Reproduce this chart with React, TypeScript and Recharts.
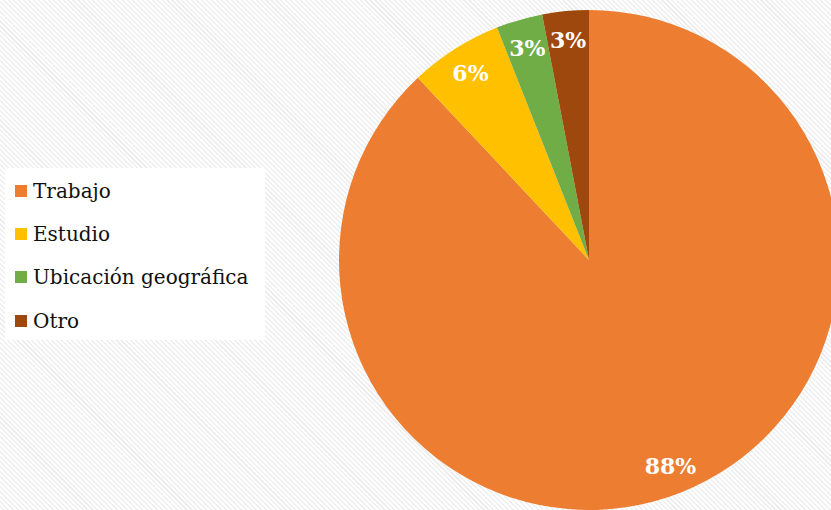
import { Cell, Legend, Pie, PieChart } from 'recharts';

const categories = ['Trabajo', 'Estudio', 'Ubicación geográfica', 'Otro'];
const shares = [88, 6, 3, 3];
const colors = ['#ED7D31', '#FFC000', '#70AD47', '#9E480E'];

const data = categories.map((name, i) => ({ name, value: shares[i] }));

const RADIAN = Math.PI / 180;
const serif = '"DejaVu Serif", Georgia, serif';

function renderLabel(props: any) {
  const { cx, cy, midAngle, outerRadius, value } = props;
  const r = outerRadius * 0.885;
  const x = cx + r * Math.cos(-midAngle * RADIAN);
  const y = cy + r * Math.sin(-midAngle * RADIAN);
  return (
    <text
      x={x}
      y={y}
      fill="#fff"
      textAnchor="middle"
      dominantBaseline="central"
      fontFamily={serif}
      fontWeight="bold"
      fontSize={22}
    >
      {`${value}%`}
    </text>
  );
}

function LegendBox() {
  return (
    <div
      style={{
        background: '#fff',
        width: 260,
        height: 172,
        boxSizing: 'border-box',
        paddingTop: 1,
        paddingLeft: 10,
      }}
    >
      {categories.map((c, i) => (
        <div
          key={c}
          style={{
            display: 'flex',
            alignItems: 'center',
            height: 43.3,
            fontFamily: serif,
            fontSize: 20,
            color: '#111',
          }}
        >
          <span
            style={{
              width: 12,
              height: 12,
              background: colors[i],
              marginRight: 6,
              display: 'inline-block',
            }}
          />
          {c}
        </div>
      ))}
    </div>
  );
}

export default function App() {
  return (
    <div
      style={{
        position: 'fixed',
        left: 0,
        top: 0,
        width: 831,
        height: 510,
        overflow: 'hidden',
        background:
          'repeating-linear-gradient(45deg, #ffffff 0px, #ffffff 2px, #efefef 2px, #efefef 3.5px)',
      }}
    >
      <PieChart width={831} height={510} margin={{ top: 0, right: 0, bottom: 0, left: 0 }}>
        <Pie
          data={data}
          dataKey="value"
          nameKey="name"
          cx={589}
          cy={260}
          outerRadius={250}
          startAngle={90}
          endAngle={-270}
          stroke="none"
          label={renderLabel}
          labelLine={false}
          isAnimationActive={false}
        >
          {data.map((d, i) => (
            <Cell key={d.name} fill={colors[i]} />
          ))}
        </Pie>
        <Legend
          layout="vertical"
          content={() => <LegendBox />}
          wrapperStyle={{ left: 5, top: 168, width: 260, height: 172 }}
        />
      </PieChart>
    </div>
  );
}
